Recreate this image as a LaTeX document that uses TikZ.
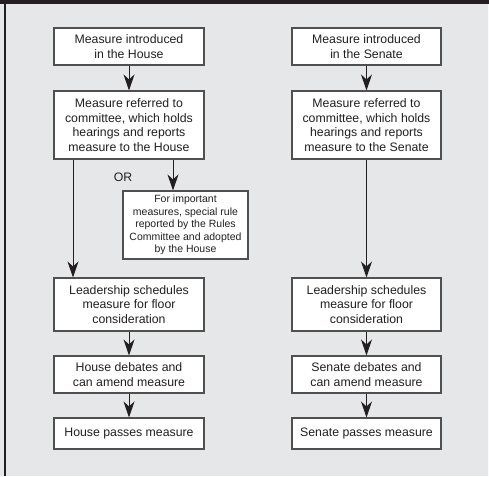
\documentclass[tikz,border=0pt]{standalone}
\usepackage{fontspec}
\setmainfont{Liberation Sans}
\usetikzlibrary{arrows.meta}
\definecolor{bg}{HTML}{E6E7E8}
\definecolor{ink}{HTML}{231F20}
\definecolor{boxline}{HTML}{505050}
\tikzset{
  stepbox/.style={draw=boxline, line width=1.1pt, fill=white, align=center, inner sep=0pt,
     text=ink, font=\fontsize{12.3}{14.5}\selectfont},
  smallbox/.style={stepbox, font=\fontsize{10.5}{12.5}\selectfont},
  headtip/.tip={Stealth[length=16pt,width=11pt,inset=5pt]},
  flow/.style={draw=ink, line width=0.9pt, -headtip},
}
\begin{document}
\begin{tikzpicture}[x=1pt,y=-1pt]
\useasboundingbox (0,0) rectangle (489,476);
\fill[bg] (0,0) rectangle (489,476);
\fill[ink] (0,0) rectangle (489,4);
\fill[ink] (3.5,4) rectangle (5.5,476);
\fill[white!85!bg] (487.5,4) rectangle (489,476);

% House column
\node[stepbox, minimum width=150pt, minimum height=37pt] (h1) at (129,46.5) {Measure introduced\\in the House};
\node[stepbox, minimum width=150pt, minimum height=68pt] (h2) at (129,125) {Measure referred to\\committee, which holds\\hearings and reports\\measure to the House};
\node[smallbox, minimum width=125pt, minimum height=68pt] (hr) at (185.5,225) {For important\\measures, special rule\\reported by the Rules\\Committee and adopted\\by the House};
\node[stepbox, minimum width=150pt, minimum height=53pt] (h3) at (129,304.5) {Leadership schedules\\measure for floor\\consideration};
\node[stepbox, minimum width=150pt, minimum height=37pt] (h4) at (129,374.5) {House debates and\\can amend measure};
\node[stepbox, minimum width=150pt, minimum height=31pt] (h5) at (129,433.5) {House passes measure};
\node[text=ink, font=\fontsize{12.3}{14.5}\selectfont, inner sep=0pt] (or) at (123,177) {OR};

% Senate column
\node[stepbox, minimum width=149pt, minimum height=37pt] (s1) at (366.5,46.5) {Measure introduced\\in the Senate};
\node[stepbox, minimum width=149pt, minimum height=68pt] (s2) at (366.5,125) {Measure referred to\\committee, which holds\\hearings and reports\\measure to the Senate};
\node[stepbox, minimum width=149pt, minimum height=53pt] (s3) at (366.5,304.5) {Leadership schedules\\measure for floor\\consideration};
\node[stepbox, minimum width=149pt, minimum height=37pt] (s4) at (366.5,374.5) {Senate debates and\\can amend measure};
\node[stepbox, minimum width=149pt, minimum height=31pt] (s5) at (366.5,433.5) {Senate passes measure};

% House arrows
\draw[flow] (h1) -- (h2);
\draw[flow] (h2.south -| 73,0) -- (h3.north -| 73,0);
\draw[flow] (h2.south -| 173,0) -- (hr.north -| 173,0);
\draw[flow] (h3) -- (h4);
\draw[flow] (h4) -- (h5);

% Senate arrows
\draw[flow] (s1) -- (s2);
\draw[flow] (s2) -- (s3);
\draw[flow] (s3) -- (s4);
\draw[flow] (s4) -- (s5);
\end{tikzpicture}
\end{document}
